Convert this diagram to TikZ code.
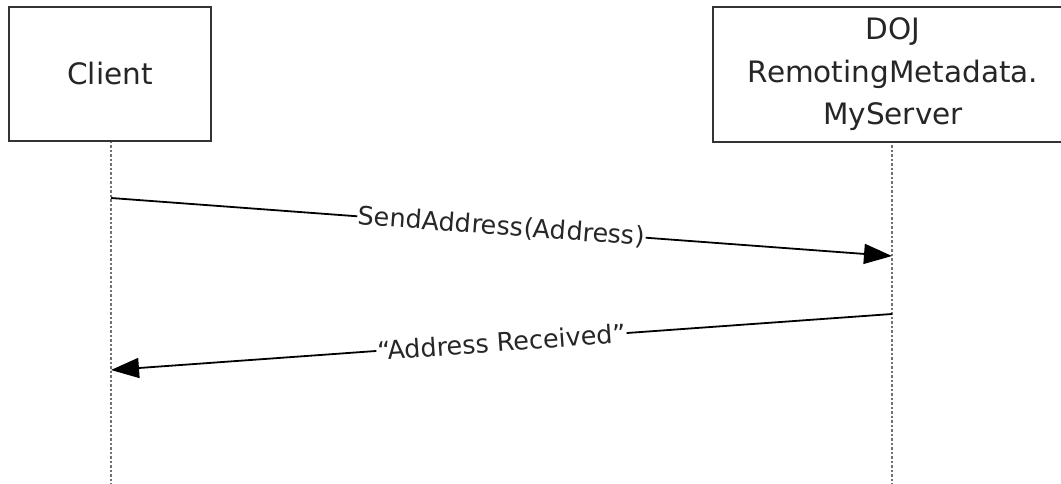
\documentclass[tikz,border=0pt]{standalone}
\usepackage{fontspec}
\setmainfont{DejaVu Sans}
\usetikzlibrary{arrows.meta}
\begin{document}
\begin{tikzpicture}[x=1pt,y=-1pt,
  actor/.style={draw=black!80, line width=2.4pt, fill=white, inner sep=0pt, align=center, text=black!85, font=\fontsize{29.5}{42.5}\selectfont},
  lifeline/.style={draw=black!55, line width=2.2pt, dash pattern=on 2.5pt off 2pt},
  msg/.style={draw=black, line width=1.8pt, -{Triangle[length=28pt,width=20pt]}},
  lbl/.style={fill=white, inner sep=1pt, sloped, text=black!85, font=\fontsize{25.5}{30}\selectfont}]
\useasboundingbox (0,0) rectangle (1061,484);
\coordinate (clientend) at (111,484);
\coordinate (serverend) at (892,484);
\coordinate (clienttop) at (111,141);
\coordinate (servertop) at (892,141);
\draw[lifeline] (clienttop) -- (clientend);
\draw[lifeline] (servertop) -- (serverend);
\node[actor, minimum width=202pt, minimum height=134pt] (client) at (110,74) {Client};
\node[actor, minimum width=360pt, minimum height=135pt] (server) at (893,74.5) {DOJ\\RemotingMetadata.\\MyServer};
\coordinate (m1s) at (111,198);
\coordinate (m1e) at (892,256);
\coordinate (m2s) at (892,314);
\coordinate (m2e) at (111,370);
\draw[msg] (m1s) -- node[lbl] {SendAddress(Address)} (m1e);
\draw[msg] (m2s) -- node[lbl] {“Address Received”} (m2e);
\end{tikzpicture}
\end{document}
